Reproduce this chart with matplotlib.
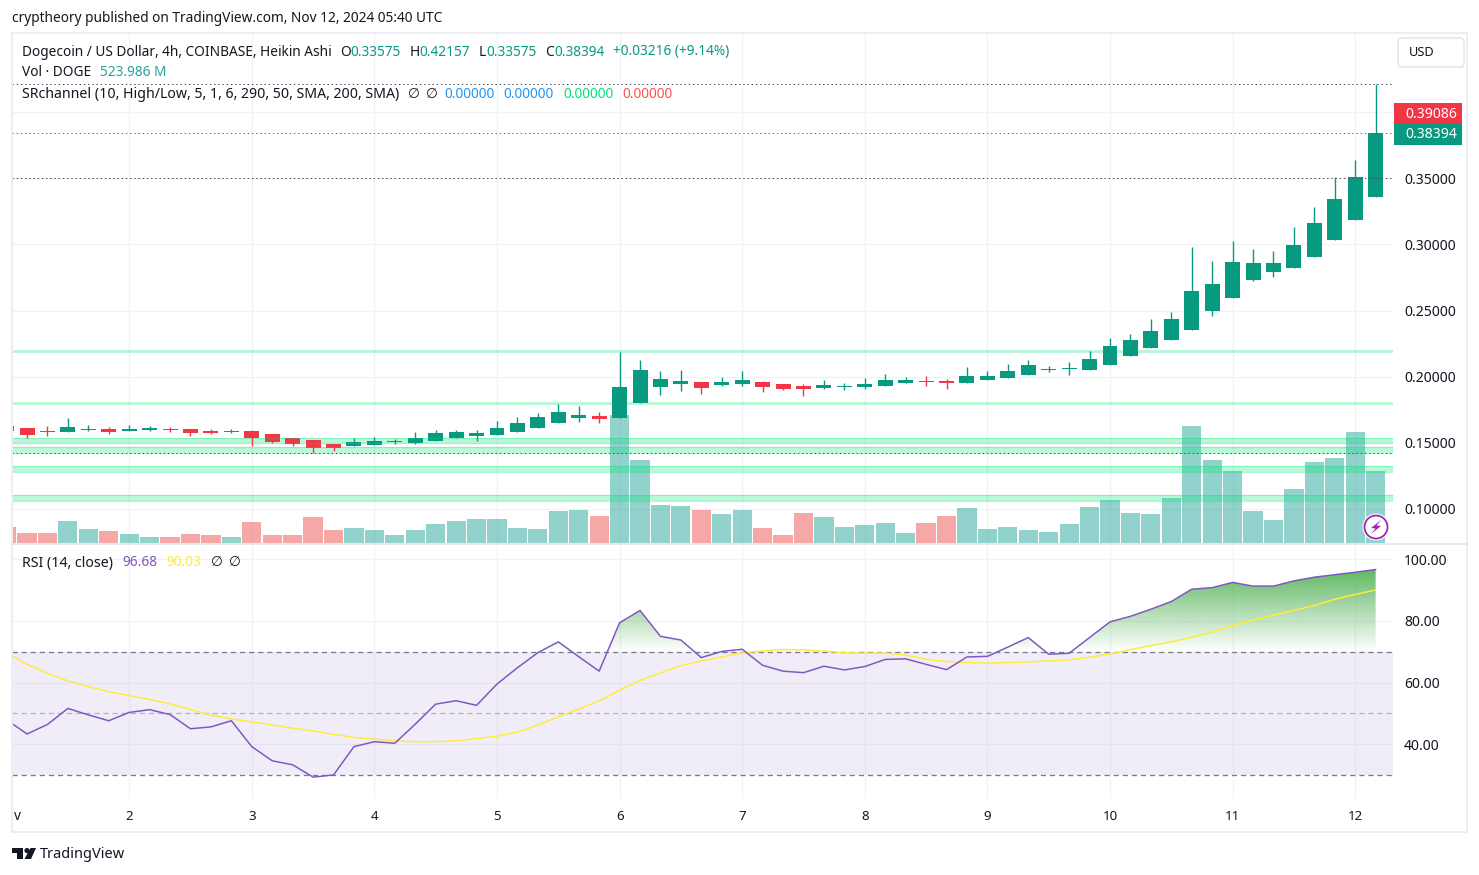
import numpy as np
import matplotlib
matplotlib.use('Agg')
import matplotlib.pyplot as plt
from matplotlib.patches import Rectangle, FancyBboxPatch, Circle, Polygon
from matplotlib.path import Path

plt.rcParams['font.family'] = ['Noto Sans', 'DejaVu Sans']

# 4h heikin ashi candles
opens = [.1630, .1615, .1592, .1584, .1600, .1607, .1592, .1600, .1607, .1607, .1592, .1584,
         .1592, .1569, .1539, .1524, .1494, .1479, .1486, .1509, .1501, .1516, .1539, .1554,
         .1562, .1584, .1614, .1652, .1690, .1705, .1690, .1803, .1924, .1947, .1962, .1939,
         .1947, .1962, .1947, .1932, .1917, .1924, .1924, .1932, .1954, .1970, .1970, .1954,
         .1977, .1993, .2015, .2053, .2061, .2053, .2091, .2159, .2219, .2280, .2355, .2499,
         .2597, .2734, .2794, .2824, .2907, .3036, .3187, .33575]
closes = [.1592, .1562, .1584, .1622, .1607, .1584, .1607, .1615, .1600, .1577, .1577, .1592,
          .1539, .1509, .1494, .1463, .1463, .1509, .1516, .1516, .1539, .1577, .1584, .1577,
          .1615, .1652, .1697, .1735, .1713, .1682, .1924, .2053, .1985, .1970, .1917, .1962,
          .1977, .1924, .1909, .1909, .1939, .1932, .1947, .1977, .1977, .1962, .1954, .2007,
          .2007, .2046, .2091, .2061, .2069, .2136, .2235, .2280, .2348, .2439, .2650, .2703,
          .2870, .2862, .2862, .2998, .3165, .3346, .3512, .38394]
highs = [.1630, .1615, .1630, .1690, .1637, .1622, .1637, .1630, .1622, .1607, .1607, .1607,
         .1600, .1569, .1539, .1524, .1494, .1539, .1547, .1531, .1584, .1600, .1600, .1600,
         .1668, .1697, .1728, .1796, .1781, .1735, .2189, .2128, .2045, .2053, .1962, .2000,
         .2045, .1970, .1947, .1947, .1977, .1954, .1992, .2023, .2000, .2007, .1985, .2075,
         .2045, .2098, .2129, .2083, .2114, .2197, .2295, .2325, .2439, .2492, .2983, .2877,
         .3028, .2968, .2953, .3134, .3285, .3512, .3641, .42157]
lows = [.1592, .1539, .1554, .1584, .1592, .1569, .1592, .1592, .1584, .1554, .1569, .1577,
        .1479, .1501, .1479, .1426, .1441, .1479, .1486, .1494, .1494, .1516, .1539, .1516,
        .1562, .1584, .1614, .1652, .1660, .1652, .1690, .1803, .1864, .1894, .1871, .1932,
        .1932, .1886, .1902, .1856, .1909, .1902, .1909, .1932, .1954, .1932, .1909, .1954,
        .1977, .1990, .2015, .2038, .2015, .2053, .2091, .2159, .2219, .2280, .2355, .2461,
        .2597, .2726, .2756, .2824, .2907, .3036, .3187, .33575]

# volume in millions
volumes = [116, 73, 73, 160, 102, 87, 66, 44, 44, 66, 58, 44, 153, 58, 58, 189, 95, 109, 95, 58,
           95, 138, 160, 175, 175, 109, 102, 233, 240, 197, 932, 604, 277, 269, 240, 211, 240, 109,
           58, 218, 189, 116, 131, 146, 73, 146, 197, 255, 102, 116, 95, 80, 138, 262, 313, 218,
           211, 328, 852, 604, 524, 233, 167, 393, 590, 619, 808, 524]

rsi = [47.9, 43.3, 46.4, 51.6, 49.5, 47.6, 50.3, 51.2, 49.6, 45.0, 45.6, 47.6, 39.2, 34.6, 33.3,
       29.3, 30.0, 39.2, 40.8, 40.3, 46.5, 53.0, 54.1, 52.6, 59.5, 64.8, 69.7, 73.2, 68.4, 63.7,
       79.4, 83.4, 75.0, 73.8, 68.1, 70.1, 70.8, 65.6, 63.7, 63.2, 65.3, 64.1, 65.2, 67.5, 67.7,
       65.9, 64.2, 68.3, 68.5, 71.5, 74.6, 69.2, 69.5, 74.6, 79.7, 81.5, 83.8, 86.3, 90.3, 90.8,
       92.5, 91.3, 91.3, 93.0, 94.2, 95.0, 95.8, 96.68]
rsi_ma = [69.7, 65.9, 63.0, 60.5, 58.7, 57.0, 55.8, 54.5, 53.1, 51.2, 49.4, 48.2, 47.2, 46.2, 45.2,
          44.3, 43.2, 42.2, 41.6, 41.1, 40.8, 40.8, 41.1, 41.8, 42.6, 43.9, 46.2, 48.9, 51.4, 54.0,
          57.5, 60.7, 63.1, 65.5, 67.0, 68.3, 69.6, 70.3, 70.7, 70.6, 70.2, 69.7, 69.5, 69.6, 68.9,
          67.6, 66.8, 66.5, 66.3, 66.5, 66.7, 67.0, 67.4, 68.2, 69.3, 70.7, 72.0, 73.2, 74.7, 76.4,
          78.6, 80.2, 81.9, 83.4, 85.0, 87.0, 88.6, 90.03]

day_ticks = [6, 12, 18, 24, 30, 36, 42, 48, 54, 60, 66]
day_labels = ['2', '3', '4', '5', '6', '7', '8', '9', '10', '11', '12']
price_ticks = [.10, .15, .20, .25, .30, .35, .40]
price_labels = ['0.10000', '0.15000', '0.20000', '0.25000', '0.30000', '0.35000', '']
rsi_ticks = [40, 60, 80, 100]
rsi_labels = ['40.00', '60.00', '80.00', '100.00']

# support/resistance channels (top, bottom)
channel_tops = [.2198, .1805, .1539, .1471, .1327, .1108]
channel_bots = [.2180, .1787, .1501, .1426, .1282, .1057]
dotted_grey = [.42157, .3505, .1425]
last_close = .38394

GREEN = '#089981'
RED = '#F23645'
TXT = '#131722'
GRID = '#f1f2f5'
W, H = 1479, 875
px = 0.72  # one pixel in points at dpi 100

x = np.arange(len(opens))
opens = np.array(opens)
closes = np.array(closes)
highs = np.array(highs)
lows = np.array(lows)
up = closes >= opens
colors = [GREEN if u else RED for u in up]
vol_colors = ['#26a69a' if u else '#ef5350' for u in up]

fig = plt.figure(figsize=(W / 100, H / 100), dpi=100, facecolor='white')


def pane(x0, y0, x1, y1):
    return [x0 / W, 1 - y1 / H, (x1 - x0) / W, (y1 - y0) / H]


xlim = (0.265, 67.85)
ylim_price = (0.0735, 0.4598)

# price pane: grid and labels at the bottom, then volume, then channels and candles
ax = fig.add_axes(pane(12, 33, 1393, 544))
ax.set_xlim(xlim)
ax.set_ylim(ylim_price)
ax.set_xticks(day_ticks)
ax.set_xticklabels([])
ax.set_yticks(price_ticks)
ax.set_yticklabels(price_labels, color='#131722', fontsize=10.1)
ax.grid(True, color=GRID, lw=1.3 * px)
ax.set_axisbelow(True)
for s in ax.spines.values():
    s.set_visible(False)

ax_vol = ax.twinx()
ax_vol.set_ylim(-7.28, 3713)
ax_vol.bar(x, volumes, width=0.94, color=vol_colors, alpha=0.5, lw=0)
ax_vol.axis('off')

ax_top = ax.twinx()
ax_top.set_ylim(ylim_price)
ax_top.axis('off')
# twinx moves the ticks of the first axes to the left
ax.yaxis.tick_right()
ax.tick_params(length=0, pad=8)
for t, b in zip(channel_tops, channel_bots):
    ax_top.axhspan(b, t, facecolor='#00e676', alpha=0.27, lw=0)
    if t - b > .002:
        ax_top.axhline(t, color='#00e676', alpha=0.3, lw=1.2 * px)
        ax_top.axhline(b, color='#00e676', alpha=0.3, lw=1.2 * px)
for p in dotted_grey:
    ax_top.axhline(p, color='#4a4d57', lw=px, ls=(0, (1.4, 2.8)))
ax_top.axhline(last_close, color=GREEN, lw=px, ls=(0, (1.4, 2.8)))
ax_top.vlines(x, lows, highs, colors=colors, lw=1.4 * px)
ax_top.bar(x, closes - opens, bottom=opens, width=0.733, color=colors, lw=0)
ax_top.set_xlim(xlim)

# rsi pane
ax2 = fig.add_axes(pane(12, 544, 1393, 799))
ax2.set_xlim(xlim)
ax2.set_ylim(22.2, 104.97)
ax2.set_xticks(day_ticks)
ax2.set_xticklabels(day_labels, color=TXT, fontsize=9.6)
ax2.set_yticks(rsi_ticks)
ax2.set_yticklabels(rsi_labels, color=TXT, fontsize=10.1)
ax2.yaxis.tick_right()
ax2.tick_params(axis='y', length=0, pad=8)
ax2.tick_params(axis='x', length=0, pad=8)
ax2.grid(True, color=GRID, lw=1.3 * px)
ax2.set_axisbelow(True)
for s in ax2.spines.values():
    s.set_visible(False)

ax2.axhspan(30, 70, facecolor='#7e57c2', alpha=0.1, lw=0)
ax2.axhline(70, color='#787b86', lw=1.3 * px, ls=(0, (4, 3)))
ax2.axhline(50, color='#787b86', lw=1.3 * px, ls=(0, (4, 3)), alpha=0.5)
ax2.axhline(30, color='#787b86', lw=1.3 * px, ls=(0, (4, 3)))

# green gradient above 70, cut to the rsi line
rsi_arr = np.array(rsi)
region = ax2.fill_between(x, 70, rsi_arr, where=rsi_arr > 70, interpolate=True, facecolor='none', lw=0)
clip = Path.make_compound_path(*region.get_paths())
grad = np.zeros((256, 1, 4))
grad[:, 0, 0] = 76 / 255
grad[:, 0, 1] = 175 / 255
grad[:, 0, 2] = 80 / 255
grad[:, 0, 3] = np.linspace(1, 0, 256)
im = ax2.imshow(grad, extent=(xlim[0], xlim[1], 70, 100), aspect='auto', origin='upper', zorder=2)
im.set_clip_path(clip, transform=ax2.transData)
ax2.set_xlim(xlim)
ax2.set_ylim(22.2, 104.97)

ax2.plot(x, rsi_ma, color='#ffeb3b', lw=1.5 * px, zorder=3)
ax2.plot(x, rsi, color='#7e57c2', lw=1.5 * px, zorder=4)

# overlay in pixel coordinates for the header texts and chrome
ov = fig.add_axes([0, 0, 1, 1], zorder=10)
ov.set_xlim(0, W)
ov.set_ylim(H, 0)
ov.axis('off')


def label(px_x, px_y, s, color=TXT, size=9.85, ha='left'):
    ov.text(px_x, px_y + 1, s, color=color, fontsize=size, ha=ha, va='center')


ov.add_patch(Rectangle((12, 33), 1455, 799, fill=False, ec='#eceef4', lw=2 * px))
ov.plot([12, 1467], [543.5, 543.5], color='#e0e3eb', lw=1.5 * px)

label(12, 18, 'cryptheory published on TradingView.com, Nov 12, 2024 05:40 UTC')
label(22, 51, 'Dogecoin / US Dollar, 4h, COINBASE, Heikin Ashi')
for lx, s in [(340, 'O'), (410, 'H'), (479, 'L'), (545, 'C')]:
    label(lx, 51, s)
for lx, s in [(350, '0.33575'), (419, '0.42157'), (486, '0.33575'), (554, '0.38394'),
              (613, '+0.03216 (+9.14%)')]:
    label(lx, 51, s, color=GREEN)
label(22, 72, 'Vol · DOGE')
label(100, 72, '523.986 M', color='#26a69a')
label(22, 93, 'SRchannel (10, High/Low, 5, 1, 6, 290, 50, SMA, 200, SMA)', size=10.2)
label(408, 93, '∅')
label(426, 93, '∅')
label(444, 93, '0.00000', color='#2196f3')
label(503, 93, '0.00000', color='#2196f3')
label(563, 93, '0.00000', color='#00e676')
label(622, 93, '0.00000', color='#ff5252')
label(22, 562, 'RSI (14, close)', size=10.2)
label(122, 562, '96.68', color='#7e57c2')
label(166, 562, '90.03', color='#ffeb3b')
label(211, 562, '∅')
label(229, 562, '∅')
label(14, 815, 'v')

# currency button
ov.add_patch(FancyBboxPatch((1398, 38), 66, 29, boxstyle='round,pad=0,rounding_size=4',
                            fc='white', ec='#e0e3eb', lw=1.4 * px))
label(1422, 52, 'USD', size=9.2, ha='center')

# last price tags
ov.add_patch(Rectangle((1394, 103), 68, 21, fc=RED, ec='none'))
ov.add_patch(Rectangle((1394, 124), 68, 21, fc=GREEN, ec='none'))
label(1457, 113, '0.39086', color='white', size=10.1, ha='right')
label(1457, 134, '0.38394', color='white', size=10.1, ha='right')

# lightning badge
ov.add_patch(Circle((1376, 527), 13.5, fc='white', ec='none'))
ov.add_patch(Circle((1376, 527), 11.5, fc='white', ec='#9c27b0', lw=1.8 * px))
ov.add_patch(Polygon([(1381, 520), (1371, 528), (1375.5, 528.5), (1371, 534), (1381, 526),
                      (1376.5, 525.5)], fc='#9c27b0', ec='none'))

# TradingView logo
ov.add_patch(Polygon([(12, 848), (23, 848), (23, 859), (17, 859), (17, 853), (12, 853)], fc=TXT, ec='none'))
ov.add_patch(Circle((27, 850.6), 2.6, fc=TXT, ec='none'))
ov.add_patch(Polygon([(30.5, 848), (36, 848), (31, 859), (24.5, 859)], fc=TXT, ec='none'))
label(40, 853, 'TradingView', size=10.5)

fig.savefig('out.png', dpi=100)
